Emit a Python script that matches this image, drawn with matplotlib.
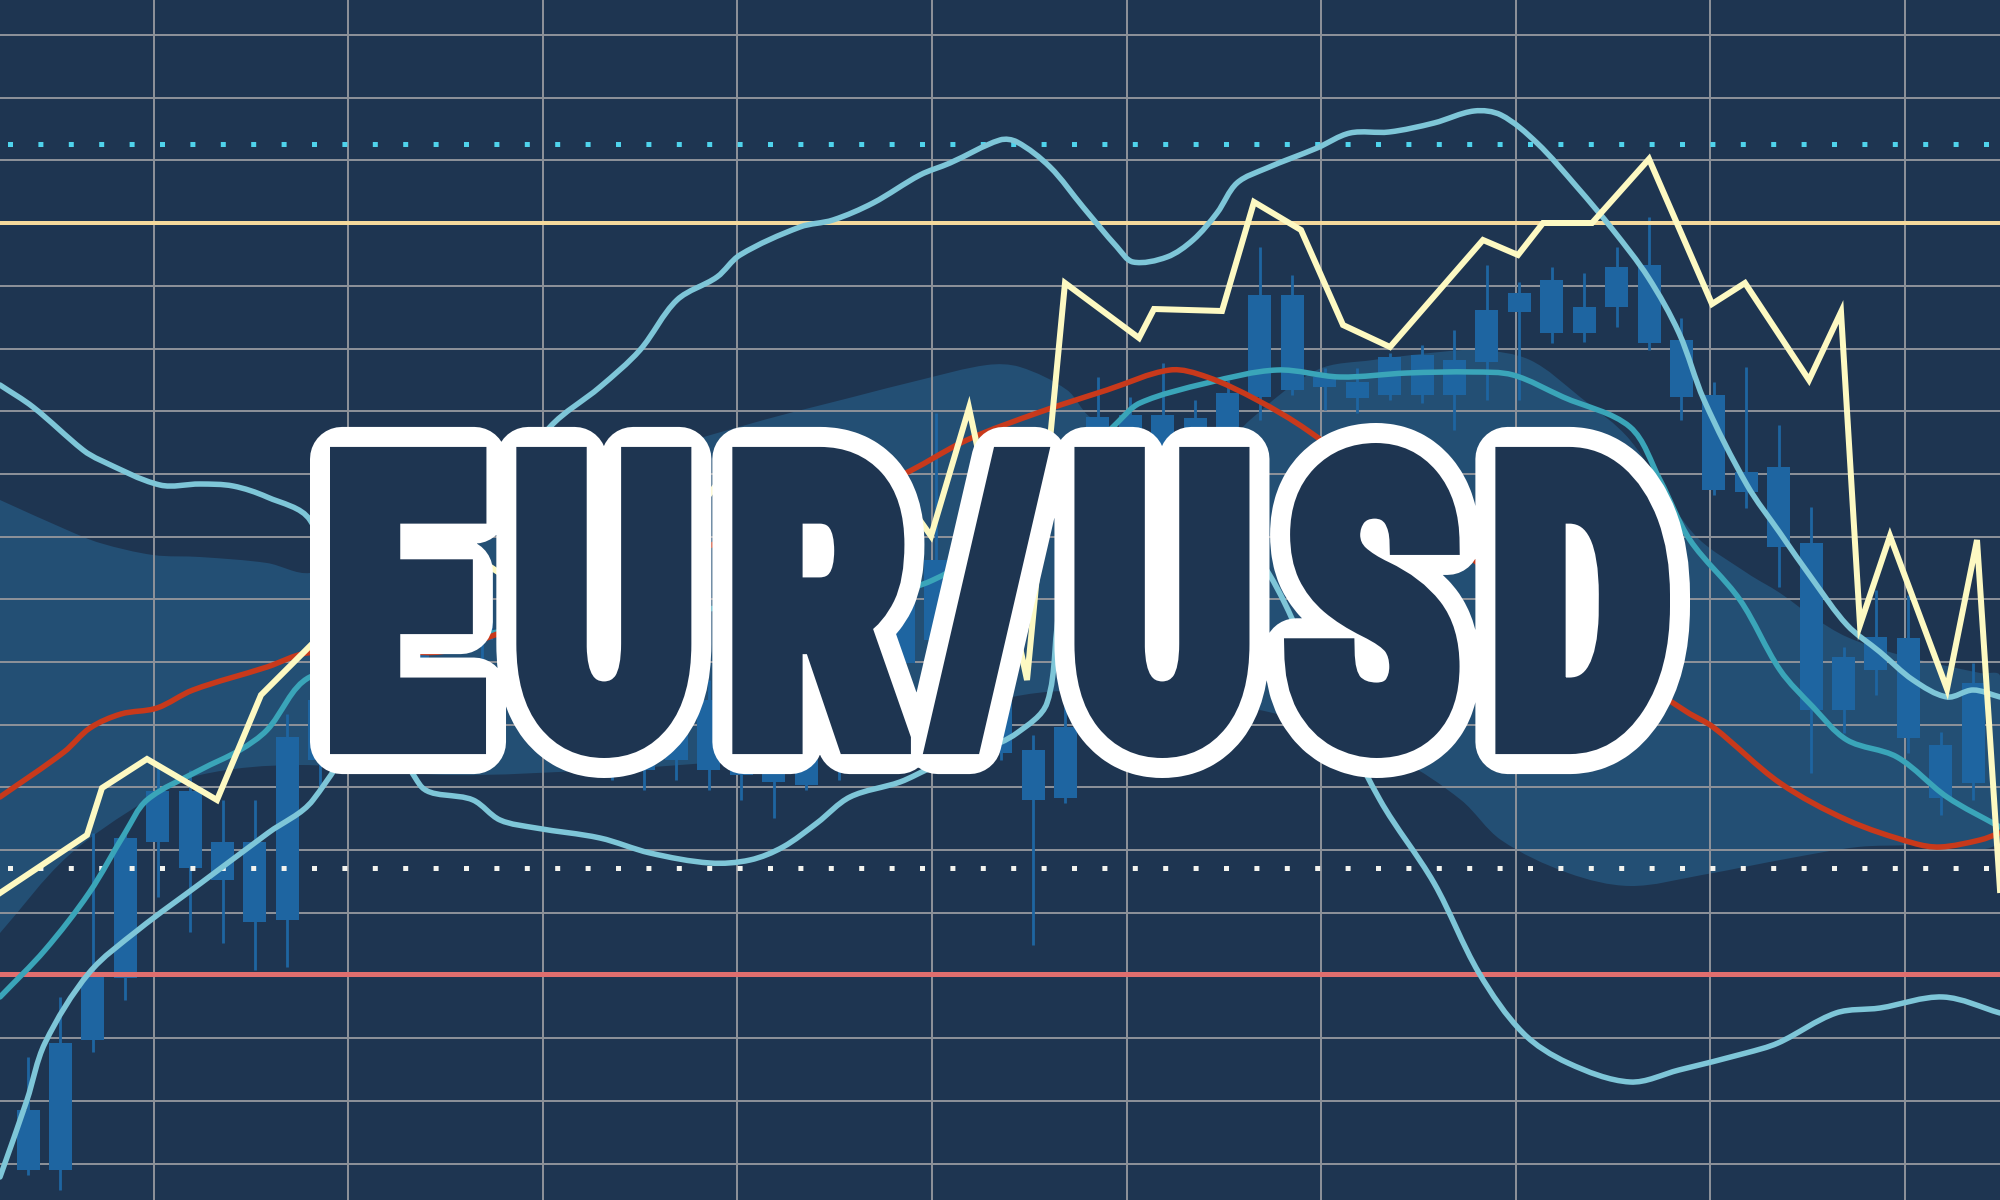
import os
import numpy as np
import matplotlib
matplotlib.use("Agg")
import matplotlib.pyplot as plt
from matplotlib.path import Path
from matplotlib.patches import PathPatch
from matplotlib.font_manager import FontProperties, fontManager
from matplotlib.textpath import TextPath
from matplotlib.transforms import Affine2D, IdentityTransform
from matplotlib import patheffects as pe
from matplotlib.colors import to_rgba

# ---------------------------------------------------------------- data
TITLE = "EUR/USD"

# candles (time index -> body top / body bottom / wick top / wick bottom), screen-depth units
candle_body_top = [1110, 1043, 975, 838, 791, 791, 842, 842, 737,
                   700, 680, 640, 600, 560, 580, 600, 640, 670, 700, 720, 690, 700, 730, 740, 750,
                   700, 620, 545, 560, 600, 683, 750, 727,
                   417, 415, 415, 418, 393, 295, 295, 377, 382, 357, 355, 360, 310, 293, 280, 307,
                   267, 265, 340, 395, 472, 467, 543, 657, 637, 638, 745, 683]
candle_body_bot = [1170, 1170, 1040, 978, 842, 868, 880, 922, 920,
                   760, 745, 720, 660, 610, 640, 680, 700, 740, 760, 770, 760, 770, 775, 782, 785,
                   760, 700, 663, 640, 690, 753, 800, 798,
                   500, 450, 460, 470, 470, 397, 390, 387, 398, 395, 395, 395, 362, 312, 333, 333,
                   307, 343, 397, 490, 492, 547, 710, 710, 670, 738, 798, 783]
candle_wick_top = [1057, 997, 833, 830, 765, 770, 800, 800, 714,
                   680, 650, 610, 570, 520, 550, 570, 610, 640, 680, 700, 660, 680, 700, 720, 730,
                   680, 600, 500, 413, 560, 660, 735, 700,
                   377, 397, 363, 400, 380, 247, 275, 368, 368, 353, 345, 330, 265, 282, 267, 273,
                   247, 217, 318, 382, 367, 425, 507, 647, 590, 595, 732, 663]
candle_wick_bot = [1175, 1190, 1052, 1000, 897, 932, 943, 970, 967,
                   790, 770, 740, 690, 640, 670, 700, 720, 760, 780, 790, 780, 790, 800, 818, 790,
                   780, 720, 700, 700, 720, 760, 945, 803,
                   520, 480, 480, 480, 480, 420, 395, 410, 413, 400, 403, 430, 400, 400, 343, 342,
                   327, 350, 420, 495, 508, 587, 773, 733, 695, 753, 815, 800]

# zig-zag price line
price_x = [0, 87, 102, 147, 217, 261, 312, 360, 420, 480, 540, 600, 660, 720, 780, 840,
           899, 931, 969, 1027, 1065, 1139, 1154, 1222, 1254, 1301, 1343, 1390,
           1483, 1518, 1543, 1592, 1649, 1712, 1745, 1809, 1841, 1860, 1890, 1947, 1977, 2000]
price_y = [893, 835, 788, 759, 800, 695, 644, 600, 640, 560, 600, 520, 560, 480, 520, 450,
           491, 536, 408, 680, 283, 338, 309, 311, 202, 230, 325, 347,
           240, 255, 223, 223, 159, 304, 283, 380, 312, 625, 536, 689, 540, 890]

# slow moving average (red)
ma_slow_x = [0, 64, 90, 121, 157, 193, 267, 307, 380, 450, 600, 750, 897, 967, 1040, 1107,
             1170, 1207, 1257, 1307, 1400, 1550, 1687, 1713, 1780, 1847, 1913, 1940, 1980, 2000]
ma_slow_y = [797, 752, 728, 714, 708, 690, 667, 653, 650, 650, 590, 530, 477, 440, 412, 390,
             370, 377, 400, 430, 500, 620, 712, 727, 783, 820, 843, 847, 840, 833]

# fast moving average (teal)
ma_fast_x = [0, 45, 89, 125, 147, 200, 240, 267, 310, 450, 600, 750, 887, 933, 1000, 1060,
             1117, 1140, 1207, 1277, 1340, 1407, 1473, 1513, 1563, 1630, 1660, 1690, 1740,
             1780, 1813, 1847, 1897, 1947, 2000]
ma_fast_y = [997, 950, 893, 833, 800, 770, 750, 730, 677, 640, 620, 605, 593, 580, 540, 480,
             423, 403, 383, 370, 377, 373, 372, 375, 397, 427, 480, 540, 600,
             670, 707, 740, 757, 797, 827]

# envelope band A (light cyan)
band_a_x = [0, 27, 45, 89, 138, 201, 268, 313, 400, 480, 550, 600, 640, 677, 717, 740, 800,
            833, 873, 920, 950, 1000, 1017, 1050, 1083, 1117, 1133, 1167, 1193, 1217, 1237,
            1267, 1317, 1350, 1389, 1434, 1474, 1501, 1537, 1577, 1613, 1648, 1679, 1704,
            1747, 1780, 1813, 1847, 1880, 1913, 1947, 1973, 2000]
band_a_y = [1177, 1100, 1043, 973, 930, 883, 833, 800, 660, 520, 427, 387, 350, 300, 277, 255, 227,
            220, 203, 175, 163, 140, 142, 167, 207, 247, 262, 257, 240, 213, 183,
            168, 148, 133, 132, 123, 111, 115, 143, 187, 230, 277, 333, 400,
            485, 533, 580, 625, 652, 680, 697, 690, 697]

# envelope band B (light cyan)
band_b_x = [0, 33, 83, 100, 160, 200, 233, 267, 310, 360, 420, 473, 500, 536, 600, 650, 710,
            750, 783, 817, 850, 900, 933, 983, 1017, 1047, 1062, 1100, 1180, 1260, 1320,
            1380, 1434, 1479, 1523, 1568, 1630, 1679, 1746, 1778, 1836, 1880, 1943, 2000]
band_b_y = [385, 407, 450, 460, 485, 484, 486, 497, 520, 640, 785, 800, 820, 828, 838, 853, 863,
            860, 847, 823, 797, 782, 767, 750, 733, 703, 600, 520, 480, 560, 680,
            800, 883, 973, 1033, 1063, 1082, 1070, 1053, 1043, 1013, 1008, 997, 1013]

# cloud (upper edge left->right, lower edge right->left)
cloud_top_x = [0, 67, 100, 153, 200, 267, 310, 450, 600, 753, 853, 920, 987, 1020, 1067, 1090,
               1150, 1200, 1250, 1317, 1373, 1440, 1480, 1530, 1580, 1630, 1693, 1747, 1780,
               1813, 1847, 1900, 1980, 2000]
cloud_top_y = [500, 530, 543, 555, 557, 563, 573, 540, 470, 423, 397, 380, 365, 367, 390, 417,
               450, 470, 420, 370, 360, 352, 350, 360, 397, 440, 533, 573, 593,
               617, 637, 655, 673, 676]
cloud_bot_x = [2000, 1913, 1858, 1791, 1702, 1630, 1568, 1501, 1461, 1400, 1300, 1200, 1100,
               1000, 900, 800, 680, 600, 450, 300, 200, 147, 67, 0]
cloud_bot_y = [840, 845, 847, 858, 875, 886, 873, 840, 800, 760, 720, 700, 690,
               700, 745, 755, 765, 770, 775, 765, 775, 800, 857, 933]

# reference levels
level_resist = 223      # pale yellow
level_support = 974     # red
level_upper_dots = 144  # cyan dotted
level_lower_dots = 868  # white dotted

# ---------------------------------------------------------------- style
BG = "#1e3551"
GRID = "#8b9098"
CLOUD = "#234f74"
CANDLE = "#1e65a1"
CYAN = "#7ec6d8"
TEAL = "#3aa5b9"
RED = "#c8391b"
YELLOW = "#fdf9c2"
PALE = "#f4d99c"
RED_LEVEL = "#e06e6e"
DOT_CYAN = "#4fd3ec"
DOT_WHITE = "#f3f3ee"

W, H, DPI = 2000, 1200, 100
PX = 72.0 / DPI  # points per pixel

fig = plt.figure(figsize=(W / DPI, H / DPI), dpi=DPI, facecolor=BG)
ax = fig.add_axes([0, 0, 1, 1])
ax.set_facecolor(BG)
ax.set_xlim(0, W)
ax.set_ylim(H, 0)
for s in ax.spines.values():
    s.set_visible(False)
ax.tick_params(length=0, labelbottom=False, labelleft=False)
ax.set_xticks(np.arange(153.5, W, 194.6))
ax.set_yticks(np.arange(35.0, H, 62.7))
ax.set_axisbelow(True)
ax.grid(True, color=GRID, lw=2 * PX)


def smooth_path(xs, ys, close=False):
    P = np.column_stack([xs, ys]).astype(float)
    n = len(P)
    verts = [P[0]]
    codes = [Path.MOVETO]
    for i in range(n - 1):
        p0 = P[max(i - 1, 0)]
        p1 = P[i]
        p2 = P[i + 1]
        p3 = P[min(i + 2, n - 1)]
        d01 = np.hypot(*(p1 - p0))
        d12 = np.hypot(*(p2 - p1))
        d23 = np.hypot(*(p3 - p2))
        m1 = (p2 - p0) / (d01 + d12) if d01 + d12 > 0 else np.zeros(2)
        m2 = (p3 - p1) / (d12 + d23) if d12 + d23 > 0 else np.zeros(2)
        verts += [p1 + m1 * d12 / 3.0, p2 - m2 * d12 / 3.0, p2]
        codes += [Path.CURVE4] * 3
    if close:
        verts.append(P[0])
        codes.append(Path.CLOSEPOLY)
    return Path(verts, codes)


# cloud
cloud_path = smooth_path(cloud_top_x + cloud_bot_x, cloud_top_y + cloud_bot_y, close=True)
ax.add_patch(PathPatch(cloud_path, facecolor=CLOUD, edgecolor="none", zorder=0.2))

# candles
t = 28 + 32.42 * np.arange(len(candle_body_top))
bt = np.array(candle_body_top, float)
bb = np.array(candle_body_bot, float)
ax.vlines(t, candle_wick_top, candle_wick_bot, color=CANDLE, lw=2.8 * PX, zorder=2)
ax.bar(t, bb - bt, bottom=bt, width=23, color=CANDLE, linewidth=0, zorder=2.1)

# reference levels
ax.axhline(level_resist, color=PALE, lw=4 * PX, zorder=3)
ax.axhline(level_support, color=RED_LEVEL, lw=5 * PX, zorder=3)
ax.plot([0, W], [level_upper_dots] * 2, color=DOT_CYAN, lw=5 * PX,
        linestyle=(4.58, (1, 5.08)), dash_capstyle="butt", zorder=3)
ax.plot([0, W], [level_lower_dots] * 2, color=DOT_WHITE, lw=5 * PX,
        linestyle=(4.58, (1, 5.08)), dash_capstyle="butt", zorder=3)

# smooth indicator lines
for xs, ys, col in [(band_b_x, band_b_y, CYAN),
                    (band_a_x, band_a_y, CYAN),
                    (ma_fast_x, ma_fast_y, TEAL),
                    (ma_slow_x, ma_slow_y, RED)]:
    ax.add_patch(PathPatch(smooth_path(xs, ys), facecolor="none", edgecolor=col,
                           lw=5.5 * PX, capstyle="round", joinstyle="round", zorder=4))

# price zig-zag
ax.plot(price_x, price_y, color=YELLOW, lw=6 * PX, solid_joinstyle="miter", zorder=5)


# ---------------------------------------------------------------- title text
def find_font():
    prefs = ["notosans-extracondensedblack", "notosans-condensedblack",
             "notosans-extracondensedextrabold", "notosans-condensedextrabold",
             "roboto-black", "notosans-black", "lato-black", "inter-black", "lato-heavy",
             "opensans-extrabold", "roboto-bold", "notosans-bold", "dejavusans-bold"]
    files = {}
    for f in fontManager.ttflist:
        b = os.path.splitext(os.path.basename(f.fname))[0].lower()
        files.setdefault(b, f.fname)
    for p in prefs:
        if p in files:
            return files[p]
    return None


def glyph_groups(verts, codes):
    """Split a text path into glyphs: outer contours plus the counters inside them."""
    starts = list(np.where(codes == Path.MOVETO)[0]) + [len(codes)]
    subs = [(starts[i], starts[i + 1]) for i in range(len(starts) - 1)]
    boxes = []
    for a, b in subs:
        m = codes[a:b] != Path.CLOSEPOLY
        v = verts[a:b][m]
        boxes.append((v[:, 0].min(), v[:, 1].min(), v[:, 0].max(), v[:, 1].max()))
    parent = list(range(len(subs)))
    for i, bi in enumerate(boxes):
        best, best_area = None, None
        ai = (bi[2] - bi[0]) * (bi[3] - bi[1])
        for j, bj in enumerate(boxes):
            if i == j:
                continue
            aj = (bj[2] - bj[0]) * (bj[3] - bj[1])
            if (aj > ai and bj[0] <= bi[0] and bj[1] <= bi[1]
                    and bj[2] >= bi[2] and bj[3] >= bi[3]):
                if best is None or aj < best_area:
                    best, best_area = j, aj
        if best is not None:
            parent[i] = best

    def root(i):
        for _ in range(len(parent) + 1):
            if parent[i] == i:
                break
            i = parent[i]
        return i

    roots = sorted(set(root(i) for i in range(len(subs))),
                   key=lambda r: boxes[r][0] + boxes[r][2])
    order = {r: k for k, r in enumerate(roots)}
    return subs, [order.get(root(i), 0) for i in range(len(subs))], len(roots)


font_file = find_font()
if font_file:
    fp = FontProperties(fname=font_file)
else:
    fp = FontProperties(family="DejaVu Sans", weight="bold")

EMB = 12.0      # extra weight added to the glyphs (px)
RIM = 20.0      # white rim width (px)
GAP = 36.0      # extra letter spacing (px)
ink_left, ink_right, ink_top, ink_bot = 330.0 + EMB, 1670.0 - EMB, 443.0 + EMB, 758.0 - EMB

tp_letters = TextPath((0, 0), TITLE.replace("/", ""), size=100, prop=fp)
tp_full = TextPath((0, 0), TITLE, size=100, prop=fp)
ext_letters = tp_letters.get_extents()
ext_full = tp_full.get_extents()
scale = (ink_bot - ink_top) / ext_letters.height          # pixels per em/100
fontsize_pt = 100 * scale * PX
cx = 0.5 * (ink_left + ink_right)
x_origin = cx - scale * 0.5 * (ext_full.x0 + ext_full.x1)
y_base = ink_bot + scale * ext_letters.y0
raw_w = scale * ext_full.width
_, _, n_glyphs = glyph_groups(tp_full.vertices, tp_full.codes)
per_glyph = n_glyphs == len(TITLE)
if per_glyph:
    sx = (ink_right - ink_left - (n_glyphs - 1) * GAP) / raw_w
else:
    sx = (ink_right - ink_left) / raw_w

fig.canvas.draw()
cx_disp = ax.transData.transform((cx, 0))[0]


class TitleEffect(pe.AbstractPathEffect):
    """Condenses the title, spaces the letters and draws it with a given stroke."""

    def __init__(self, lw_px, color, join):
        super().__init__()
        self.lw = lw_px * PX
        self.color = color
        self.join = join

    def _layout(self, v, codes):
        out = v.copy()
        if per_glyph:
            subs, gidx, n = glyph_groups(v, codes)
            if n == len(TITLE):
                gy = {}
                for (a, b), g in zip(subs, gidx):
                    m = codes[a:b] != Path.CLOSEPOLY
                    ys = v[a:b][m][:, 1]
                    lo, hi = gy.get(g, (np.inf, -np.inf))
                    gy[g] = (min(lo, ys.min()), max(hi, ys.max()))
                ref_lo, ref_hi = gy[0]
                for (a, b), g in zip(subs, gidx):
                    if TITLE[g] == "/":
                        lo, hi = gy[g]
                        out[a:b, 1] = ref_lo + (v[a:b, 1] - lo) * (ref_hi - ref_lo) / (hi - lo)
                    shift = (g - (n - 1) / 2.0) * GAP
                    out[a:b, 0] = cx_disp + sx * (v[a:b, 0] - cx_disp) + shift
                return out
        out[:, 0] = cx_disp + sx * (v[:, 0] - cx_disp)
        return out

    def draw_path(self, renderer, gc, tpath, affine, rgbFace=None):
        v = affine.transform(tpath.vertices)
        codes = tpath.codes
        if codes is None:
            codes = np.full(len(v), Path.LINETO, dtype=Path.code_type)
            codes[0] = Path.MOVETO
        p = Path(self._layout(v, codes), codes)
        gc0 = renderer.new_gc()
        gc0.copy_properties(gc)
        gc0.set_linewidth(self.lw)
        gc0.set_foreground(self.color)
        gc0.set_joinstyle(self.join)
        renderer.draw_path(gc0, p, IdentityTransform(), to_rgba(self.color))
        gc0.restore()


fp_title = fp.copy()
fp_title.set_size(fontsize_pt)
ax.text(x_origin, y_base, TITLE, fontproperties=fp_title, color=BG,
        ha="left", va="baseline", zorder=20,
        path_effects=[TitleEffect(2 * (EMB + RIM), "white", "round"),
                      TitleEffect(2 * EMB, BG, "miter")])

fig.savefig("out.png", dpi=DPI, facecolor=BG)
